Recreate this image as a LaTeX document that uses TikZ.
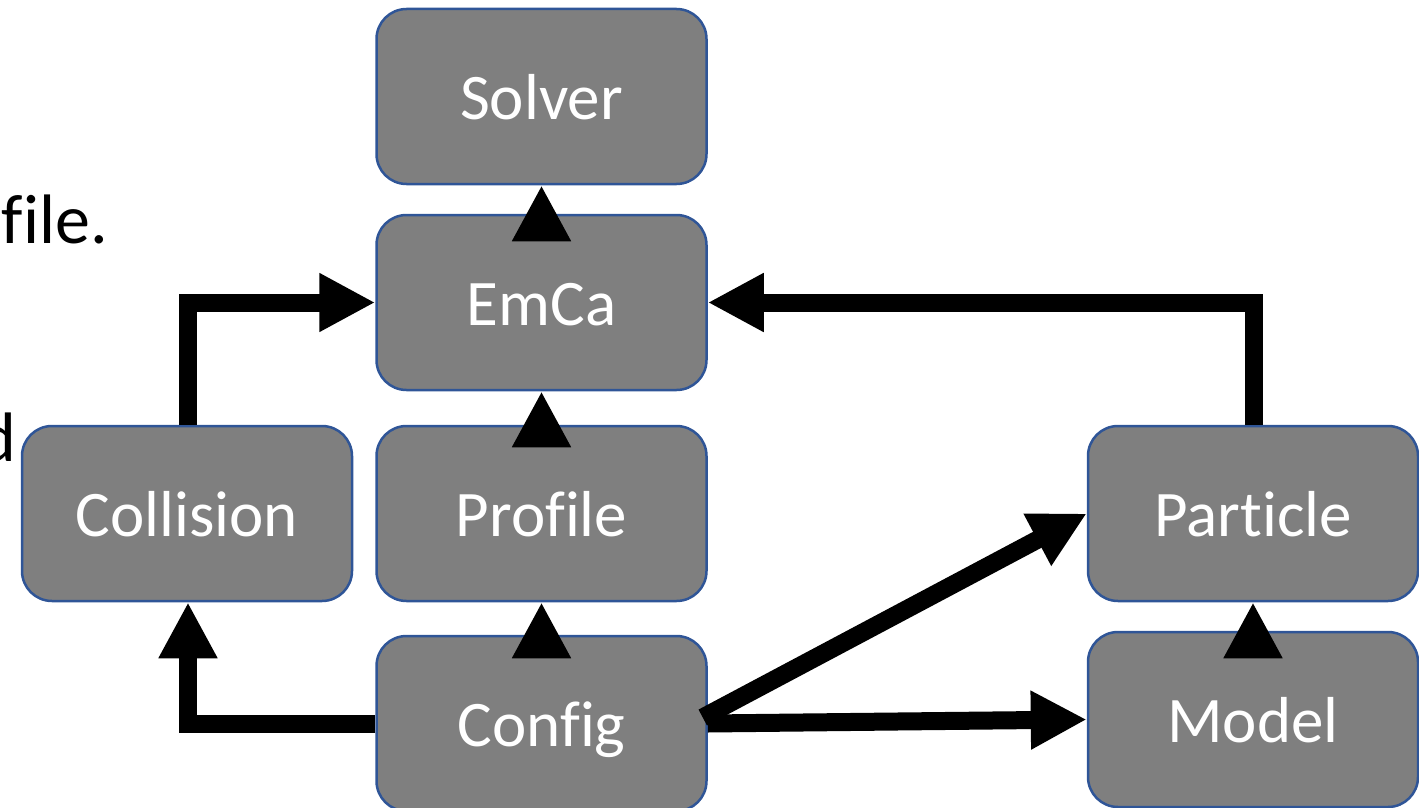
\documentclass[tikz,border=0pt]{standalone}
\usepackage{fontspec}
\setmainfont{Carlito}[RawFeature={-liga;-clig;-dlig}]
\usetikzlibrary{arrows.meta,calc}

\definecolor{boxfill}{HTML}{7F7F7F}
\definecolor{boxline}{HTML}{2F5597}

\tikzset{
  module/.style={draw=boxline, line width=2.5pt, fill=boxfill, rounded corners=30pt,
    minimum width=330pt, minimum height=175pt, inner sep=0pt,
    text=white, font=\fontsize{65}{78}\selectfont, text height=46pt, text depth=0pt},
  link/.style={line width=18pt, -{Triangle[length=56pt,width=55pt]}},
  cuttext/.style={font=\fontsize{70}{84}\selectfont, inner sep=0pt}
}

\begin{document}
\begin{tikzpicture}[x=1pt, y=-1pt]
  \useasboundingbox (0,0) rectangle (1419,808);
  \clip (0,0) rectangle (1419,808);

  % text running in from the left edge
  \node[cuttext, anchor=base east] (txtfile) at (108,243) {file.};
  \node[cuttext, anchor=base east] (txtd) at (16,461) {d};

  % modules
  \node[module] (solver)    at (541.5, 96.5)  {Solver};
  \node[module] (emca)      at (541.5, 302.5) {EmCa};
  \node[module] (profile)   at (541.5, 513.5) {Profile};
  \node[module] (collision) at (187,   513.5) {Collision};
  \node[module] (config)    at (541.5, 723.5) {Config};
  \node[module] (particle)  at (1253,  513.5) {Particle};
  \node[module] (model)     at (1253,  719.5) {Model};

  % dependencies
  \draw[link] (emca.north) -- (solver.south);
  \draw[link] (profile.north) -- (emca.south);
  \draw[link] (config.north) -- (profile.south);
  \draw[link] (model.north) -- (particle.south);
  \draw[link] ([xshift=1pt]collision.north) |- (emca.west);
  \draw[link] ([xshift=1pt]particle.north) |- (emca.east);
  \draw[link] (config.west) -| ([xshift=1pt]collision.south);
  \coordinate (cfgout) at ($(config.east)+(-5,-6)$);
  \draw[link] (cfgout) -- (particle.west);
  \draw[link] (config.east) -- (model.west);
\end{tikzpicture}
\end{document}
